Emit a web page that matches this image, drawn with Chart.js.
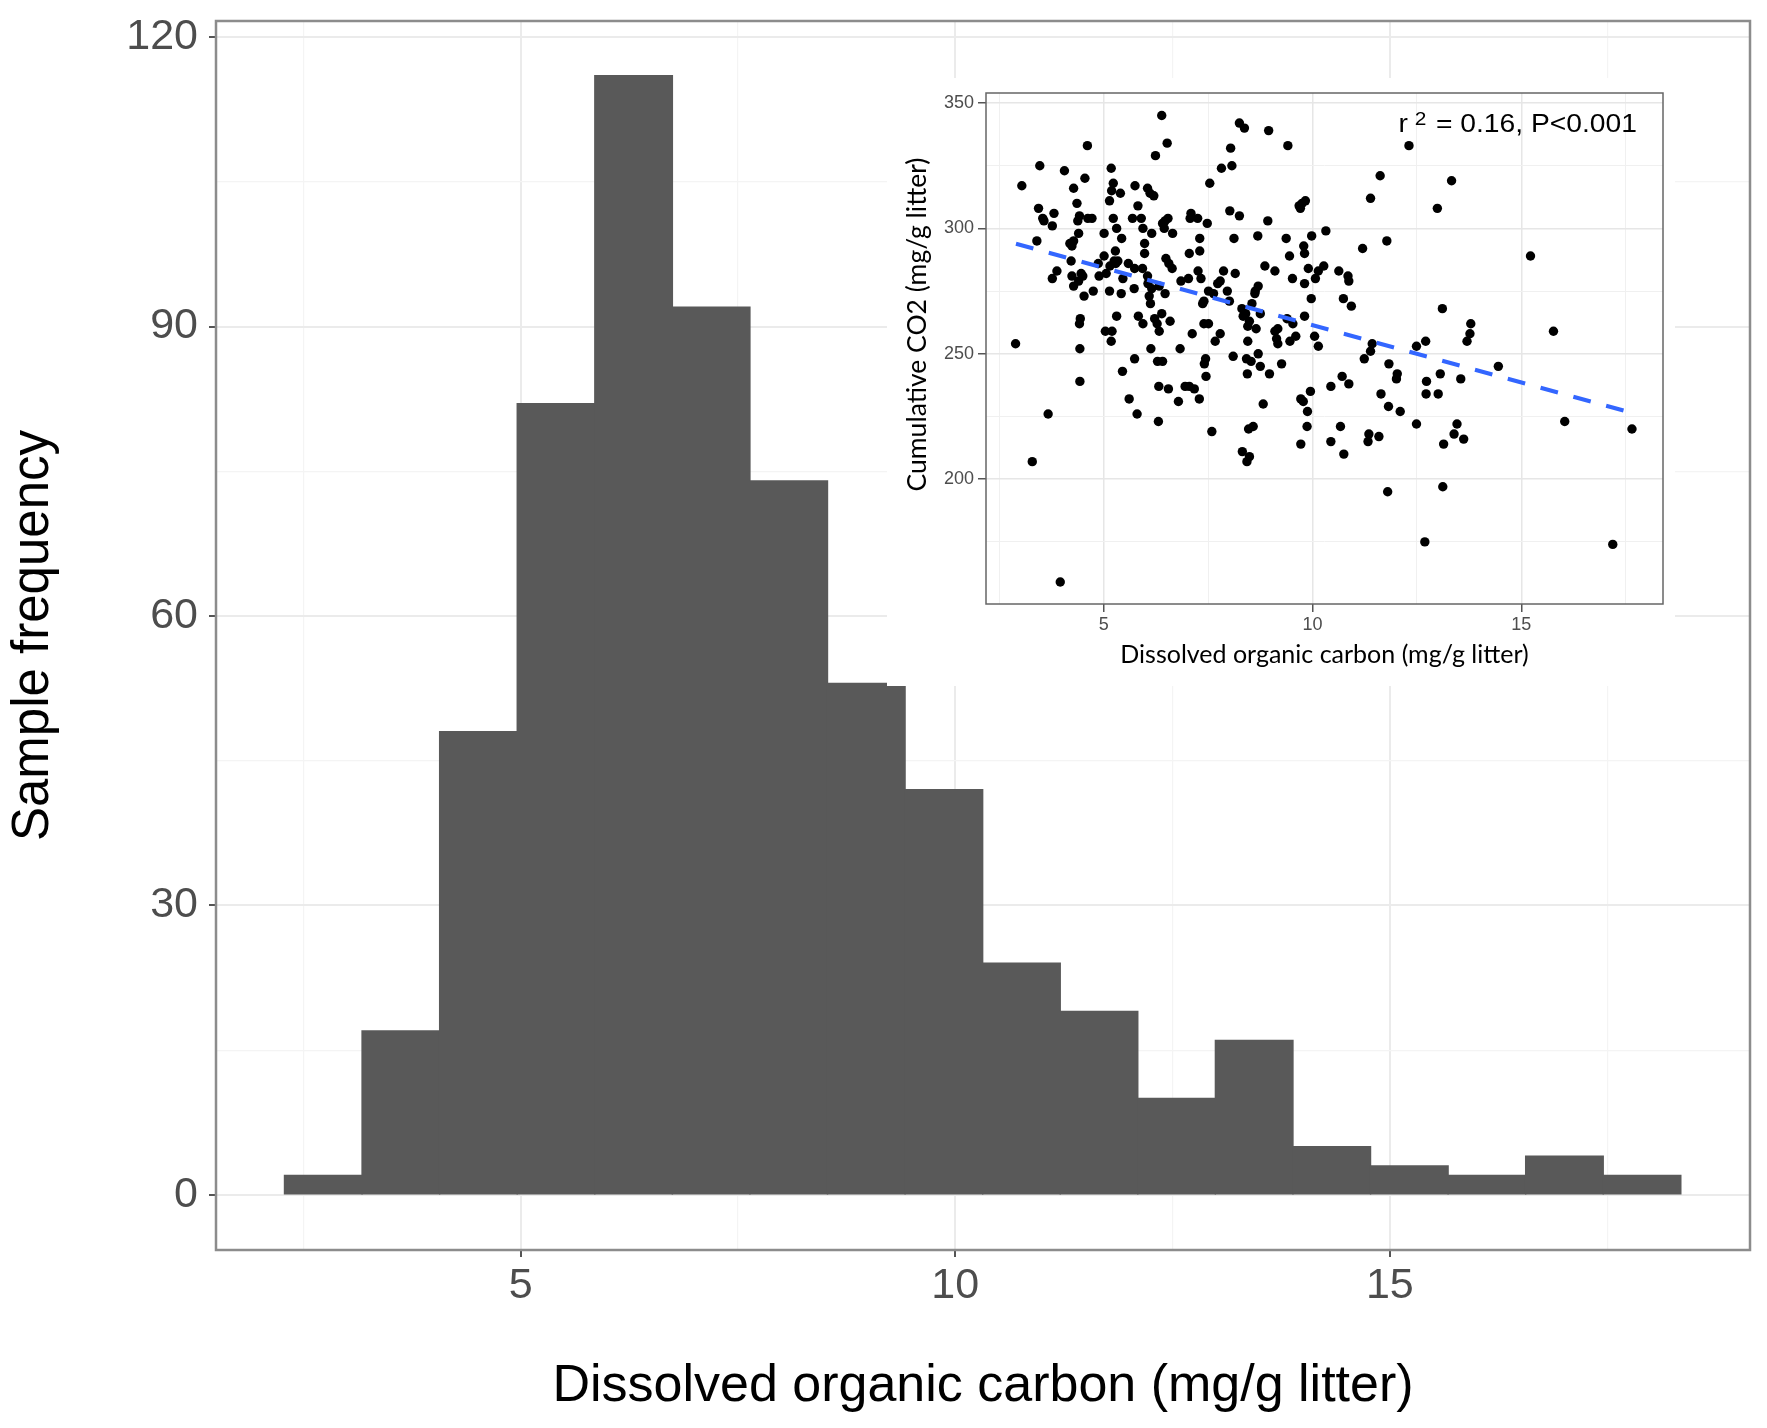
<!DOCTYPE html>
<html>
<head>
<meta charset="utf-8">
<title>DOC histogram with CO2 inset</title>
<script src="https://cdn.jsdelivr.net/npm/chart.js@4.4.1/dist/chart.umd.min.js"></script>
<style>
  html, body { margin: 0; padding: 0; background: #fff; }
  #wrap { position: relative; width: 1767px; height: 1428px; }
  #main { position: absolute; left: 0; top: 0; }
  #inset { position: absolute; left: 887px; top: 78px; background: #fff; }
</style>
</head>
<body>
<div id="wrap">
  <canvas id="main" width="1767" height="1428"></canvas>
  <canvas id="inset" width="788" height="608"></canvas>
</div>
<script>
// ---- main histogram ----
const binEdges = [2.284, 3.176, 4.069, 4.961, 5.854, 6.746, 7.638, 8.531, 9.423, 10.316,
  11.208, 12.100, 12.993, 13.885, 14.778, 15.670, 16.562, 17.455, 18.347];
const binCounts = [2, 17, 48, 82, 116, 92, 74, 53, 42, 24, 19, 10, 16, 5, 3, 2, 4, 2];
const histXTicks = [2.5, 5, 7.5, 10, 12.5, 15, 17.5];
const histXLabels = [5, 10, 15];
const histYTicks = [0, 15, 30, 45, 60, 75, 90, 105, 120];
const histYLabels = [0, 30, 60, 90, 120];
const histXTitle = 'Dissolved organic carbon (mg/g litter)';
const histYTitle = 'Sample frequency';

// ---- inset scatter ----
const docX = [
  6.39, 8.25, 8.37, 8.95, 6.52, 4.61, 9.41, 6.24, 8.04, 3.47,
  4.06, 5.18, 4.55, 7.82, 8.07, 3.04, 4.28, 5.23, 5.19, 5.40,
  5.75, 6.05, 6.11, 6.20, 7.54, 5.14, 4.36, 3.44, 3.81, 3.54,
  3.57, 3.77, 4.42, 4.38, 4.72, 4.62, 5.23, 5.82, 5.69, 5.90,
  7.09, 7.07, 7.25, 7.48, 8.02, 8.25, 8.93, 9.68, 9.75, 9.83,
  9.71, 10.32, 6.47, 6.54, 6.41, 5.31, 5.94, 6.15, 6.45, 6.65,
  4.40, 5.01, 5.43, 3.40, 4.19, 4.24, 4.28, 5.98, 7.30, 8.12,
  8.69, 9.37, 9.98, 9.79, 9.81, 9.45, 5.28, 5.01, 5.98, 7.05,
  7.30, 4.22, 4.87, 5.25, 5.34, 5.15, 5.29, 5.59, 6.49, 6.56,
  6.64, 8.86, 9.10, 9.90, 10.14, 10.27, 3.88, 3.77, 4.24, 4.46,
  4.50, 4.40, 4.89, 5.06, 5.74, 5.93, 6.05, 5.46, 6.85, 7.03,
  7.26, 7.33, 7.87, 7.79, 7.73, 8.15, 9.52, 9.81, 10.07, 4.28,
  4.53, 4.75, 5.14, 5.42, 5.73, 6.06, 6.15, 6.09, 6.12, 6.33,
  6.47, 7.51, 7.63, 7.40, 7.37, 7.96, 8.01, 8.70, 8.63, 8.62,
  8.55, 9.97, 8.31, 8.40, 8.34, 8.49, 8.45, 8.65, 8.75, 7.40,
  7.51, 6.39, 6.22, 6.28, 6.59, 5.83, 5.94, 5.31, 4.44, 4.42,
  5.04, 5.20, 5.18, 6.33, 7.12, 7.79, 7.67, 9.10, 9.17, 9.14,
  9.17, 9.81, 9.39, 9.53, 9.60, 10.05, 10.14, 9.46, 8.45, 2.89,
  4.43, 6.13, 6.83, 8.70, 5.74, 5.45, 6.29, 6.41, 7.44, 7.41,
  7.45, 8.10, 8.42, 8.53, 8.75, 8.97, 9.26, 8.44, 4.43, 6.32,
  6.55, 6.95, 7.05, 7.17, 6.79, 7.29, 5.61, 5.80, 3.67, 6.31,
  7.59, 8.47, 8.58, 8.32, 8.49, 8.43, 8.82, 9.95, 9.72, 9.78,
  9.88, 9.87, 9.72, 10.44, 10.44, 3.29, 3.96, 12.31, 11.62, 13.33,
  11.39, 12.99, 11.20, 11.78, 15.22, 10.63, 10.85, 10.87, 10.74, 10.93,
  13.11, 13.79, 13.77, 13.70, 15.77, 11.43, 12.49, 12.71, 11.39, 11.24,
  14.45, 10.71, 10.87, 11.83, 12.03, 12.01, 12.73, 13.06, 13.55, 11.64,
  12.72, 13.01, 11.82, 12.10, 12.49, 13.46, 10.67, 11.35, 11.33, 11.59,
  13.39, 13.62, 13.14, 10.75, 16.04, 17.65, 11.80, 13.12, 12.69, 17.19
];
const co2Y = [
  345, 342, 340, 339, 334, 333, 333, 329, 332, 325,
  323, 324, 320, 324, 325, 317, 316, 318, 315, 314,
  317, 316, 314, 313, 318, 311, 310, 308, 306, 304,
  303, 301, 305, 303, 304, 304, 304, 309, 304, 304,
  306, 304, 304, 302, 307, 305, 303, 309, 310, 311,
  308, 299, 303, 304, 302, 300, 300, 298, 300, 298,
  298, 298, 296, 295, 294, 293, 295, 294, 296, 296,
  297, 296, 297, 293, 290, 289, 291, 289, 290, 290,
  291, 287, 286, 287, 287, 285, 286, 286, 288, 286,
  284, 285, 283, 284, 283, 285, 283, 280, 281, 282,
  281, 279, 281, 282, 284, 284, 281, 280, 279, 280,
  283, 280, 283, 279, 278, 282, 280, 278, 280, 277,
  273, 275, 275, 274, 276, 278, 276, 273, 270, 277,
  274, 275, 274, 271, 270, 275, 271, 277, 275, 274,
  270, 272, 268, 266, 265, 263, 261, 260, 266, 262,
  262, 266, 264, 262, 263, 265, 262, 265, 264, 262,
  259, 259, 255, 259, 258, 258, 255, 259, 260, 256,
  254, 265, 264, 262, 257, 257, 253, 255, 255, 254,
  252, 252, 252, 250, 248, 243, 247, 247, 248, 246,
  241, 249, 248, 247, 245, 242, 246, 242, 239, 237,
  236, 237, 237, 236, 231, 232, 232, 226, 226, 223,
  219, 220, 221, 211, 209, 207, 230, 235, 232, 231,
  227, 221, 214, 237, 215, 207, 159, 333, 321, 319,
  312, 308, 292, 295, 289, 283, 281, 279, 272, 269,
  268, 262, 258, 255, 259, 254, 253, 255, 251, 248,
  245, 241, 238, 246, 242, 240, 239, 242, 240, 234,
  234, 234, 229, 227, 222, 222, 221, 218, 215, 217,
  218, 216, 214, 210, 223, 220, 195, 197, 175, 174
];
const fitX = [2.90, 17.64];
const fitY = [293.9, 226.5];
const insetXTicks = [2.5, 5, 7.5, 10, 12.5, 15, 17.5];
const insetXLabels = [5, 10, 15];
const insetYTicks = [175, 200, 225, 250, 275, 300, 325, 350];
const insetYLabels = [200, 250, 300, 350];
const insetXTitle = 'Dissolved organic carbon (mg/g litter)';
const insetYTitle = 'Cumulative CO2 (mg/g litter)';
const statSup = '2';
const statText = '= 0.16, P<0.001';

const SANS = '"Liberation Sans", Arial, sans-serif';
const TITLE_SANS = 'Lato, "Open Sans", sans-serif';

// stroke the whole plotting panel, like ggplot's panel border
function framePlugin(color, width) {
  return {
    id: 'frame',
    afterDatasetsDraw(chart) {
      const { ctx, chartArea: a } = chart;
      ctx.save();
      ctx.strokeStyle = color;
      ctx.lineWidth = width;
      ctx.strokeRect(a.left, a.top, a.right - a.left, a.bottom - a.top);
      ctx.restore();
    },
  };
}

function fixedTicks(list) {
  return scale => { scale.ticks = list.map(v => ({ value: v })); };
}

// fixed axis box, no extra room for overhanging labels
function fixedSize(prop, size) {
  return scale => {
    scale[prop] = size;
    scale.paddingTop = 0;
    scale.paddingBottom = 0;
    scale.paddingLeft = 0;
    scale.paddingRight = 0;
  };
}

// major/minor grid styling
function gridFor(labels, major, minor, majorW, minorW, tickCol, tickW) {
  return {
    color: c => (labels.includes(c.tick.value) ? major : minor),
    lineWidth: c => (labels.includes(c.tick.value) ? majorW : minorW),
    tickColor: c => (labels.includes(c.tick.value) ? tickCol : 'rgba(0,0,0,0)'),
    tickWidth: tickW,
  };
}

new Chart(document.getElementById('main'), {
  type: 'bar',
  data: {
    datasets: [{
      data: binCounts.map((c, i) => ({ x: (binEdges[i] + binEdges[i + 1]) / 2, y: c })),
      backgroundColor: '#595959',
      borderWidth: 0,
      barPercentage: 1,
      categoryPercentage: 1,
      inflateAmount: 0.7,
    }],
  },
  options: {
    responsive: false,
    devicePixelRatio: 1,
    animation: false,
    events: [],
    layout: { padding: { left: 0, right: 17, top: 21, bottom: 0 } },
    plugins: { legend: { display: false }, tooltip: { enabled: false } },
    scales: {
      x: {
        type: 'linear',
        min: 1.496,
        max: 19.143,
        offset: false,
        afterBuildTicks: fixedTicks(histXTicks),
        afterFit: fixedSize('height', 178),
        border: { display: false },
        grid: { offset: false, tickLength: 7, ...gridFor(histXLabels, '#ebebeb', '#f4f4f4', 2, 1.2, '#555', 2) },
        ticks: {
          autoSkip: false, maxRotation: 0, padding: 3, color: '#4d4d4d',
          font: { family: SANS, size: 43 },
          callback: v => (histXLabels.includes(v) ? String(v) : ''),
        },
        title: {
          display: true, text: histXTitle, color: '#000',
          font: { family: SANS, size: 52 }, padding: { top: 0, bottom: 10 },
        },
      },
      y: {
        type: 'linear',
        min: -5.72,
        max: 121.68,
        afterBuildTicks: fixedTicks(histYTicks),
        afterFit: fixedSize('width', 216),
        border: { display: false },
        grid: { tickLength: 7, ...gridFor(histYLabels, '#ebebeb', '#f4f4f4', 2, 1.2, '#555', 2) },
        ticks: {
          autoSkip: false, padding: 11, color: '#4d4d4d',
          font: { family: SANS, size: 43 },
          callback: v => (histYLabels.includes(v) ? String(v) : ''),
        },
        title: {
          display: true, text: histYTitle, color: '#000',
          font: { family: SANS, size: 51 }, padding: { top: 3, bottom: 0 },
        },
      },
    },
  },
  plugins: [framePlugin('#8c8c8c', 2.5)],
});

// titles and r^2 note that sit on the inset
const insetText = {
  id: 'insetText',
  afterDraw(chart) {
    const { ctx, chartArea: a } = chart;
    ctx.save();
    ctx.fillStyle = '#000';
    ctx.translate(a.left - 69, (a.top + a.bottom) / 2 - 24);
    ctx.rotate(-Math.PI / 2);
    ctx.font = '26.5px ' + TITLE_SANS;
    ctx.textAlign = 'center';
    ctx.textBaseline = 'middle';
    ctx.fillText(insetYTitle, 0, 0);
    ctx.restore();

    // the note text in the reference is a bit wider than Arial
    ctx.save();
    ctx.fillStyle = '#000';
    ctx.textAlign = 'right';
    ctx.textBaseline = 'alphabetic';
    ctx.translate(a.right - 26, a.top + 39);
    ctx.scale(1.13, 1);
    ctx.font = '25px ' + SANS;
    ctx.fillText(statText, 0, 0);
    const w = ctx.measureText(statText).width;
    ctx.font = '18.5px ' + SANS;
    const xs = -(w + 8.5);
    ctx.fillText(statSup, xs, -7);
    const w2 = ctx.measureText(statSup).width;
    ctx.font = '25px ' + SANS;
    ctx.fillText('r', xs - w2 - 6, 0);
    ctx.restore();
  },
};

new Chart(document.getElementById('inset'), {
  type: 'scatter',
  data: {
    datasets: [
      {
        type: 'line',
        data: fitX.map((x, i) => ({ x, y: fitY[i] })),
        borderColor: '#3366FF',
        borderWidth: 4,
        borderDash: [18, 16],
        pointRadius: 0,
        fill: false,
        order: 0,
      },
      {
        data: docX.map((x, i) => ({ x, y: co2Y[i] })),
        backgroundColor: '#000',
        borderWidth: 0,
        pointRadius: 4.7,
        order: 1,
      },
    ],
  },
  options: {
    responsive: false,
    devicePixelRatio: 1,
    animation: false,
    events: [],
    layout: { padding: { left: 0, right: 12, top: 15, bottom: 0 } },
    plugins: { legend: { display: false }, tooltip: { enabled: false } },
    scales: {
      x: {
        type: 'linear',
        min: 2.182,
        max: 18.393,
        afterBuildTicks: fixedTicks(insetXTicks),
        afterFit: fixedSize('height', 82),
        border: { display: false },
        grid: { tickLength: 8, ...gridFor(insetXLabels, '#e6e6e6', '#f0f0f0', 1.5, 1, '#555', 1.5) },
        ticks: {
          autoSkip: false, maxRotation: 0, padding: 2, color: '#4d4d4d',
          font: { family: SANS, size: 18 },
          callback: v => (insetXLabels.includes(v) ? String(v) : ''),
        },
        title: {
          display: true, text: insetXTitle, color: '#000',
          font: { family: TITLE_SANS, size: 25 }, padding: { top: 0, bottom: 16 },
        },
      },
      y: {
        type: 'linear',
        min: 150.24,
        max: 353.99,
        afterBuildTicks: fixedTicks(insetYTicks),
        afterFit: fixedSize('width', 99),
        border: { display: false },
        grid: { tickLength: 8, ...gridFor(insetYLabels, '#e6e6e6', '#f0f0f0', 1.5, 1, '#555', 1.5) },
        ticks: {
          autoSkip: false, padding: 4, color: '#4d4d4d',
          font: { family: SANS, size: 18 },
          callback: v => (insetYLabels.includes(v) ? String(v) : ''),
        },
      },
    },
  },
  plugins: [framePlugin('#666', 1.5), insetText],
});
</script>
</body>
</html>
